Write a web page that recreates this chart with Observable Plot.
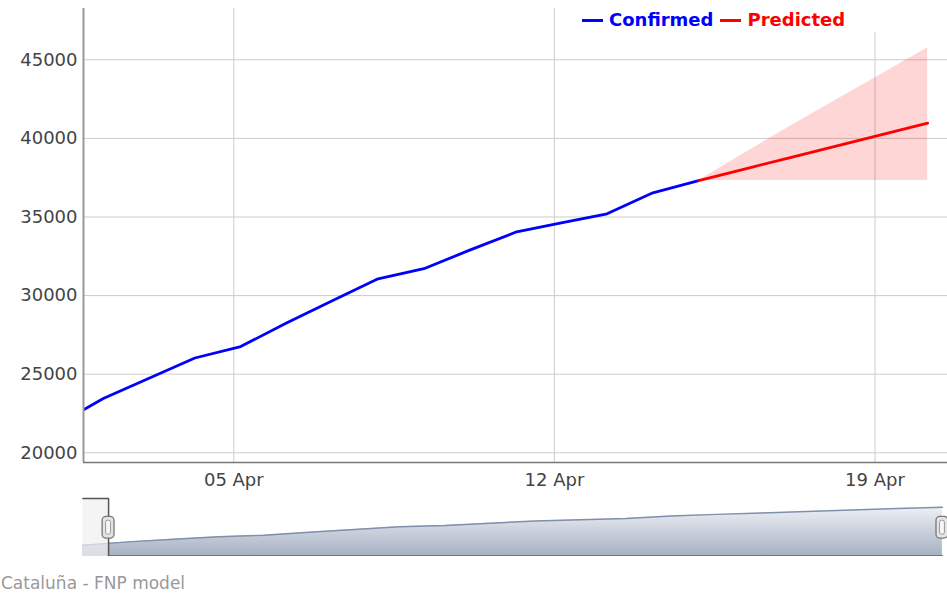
<!DOCTYPE html>
<html>
<head>
<meta charset="utf-8">
<script src="https://cdn.jsdelivr.net/npm/d3@7"></script>
<script src="https://cdn.jsdelivr.net/npm/@observablehq/plot@0.6"></script>
<style>
  html, body { margin: 0; padding: 0; background: #fff; overflow: hidden; }
  #wrap { position: relative; width: 947px; height: 594px; overflow: hidden; font-family: "DejaVu Sans", sans-serif; }
  #main, #mini { position: absolute; left: 0; }
  #main { top: 0; }
  #mini { top: 495px; }
  #legend { position: absolute; left: 580px; top: 8px; width: 367px; height: 24px; background: #fff;
            font-weight: bold; font-size: 18px; line-height: 24px; white-space: nowrap; padding-left: 2px; box-sizing: border-box; }
  #legend .dash { display: inline-block; width: 21px; height: 3px; vertical-align: middle; margin-right: 6px; position: relative; top: -1px; }
  #legend .item { margin-right: 7px; }
  #caption { position: absolute; left: 1px; top: 573px; font-size: 17px; line-height: 20px; color: #999; white-space: nowrap; }
</style>
</head>
<body>
<div id="wrap">
  <div id="main"></div>
  <div id="mini"></div>
  <div id="legend"></div>
  <div id="caption"></div>
</div>
<script>
// ---- data ----
const confirmedDates = [
  "2020-04-01T03:36Z","2020-04-02T03:36Z","2020-04-03T03:36Z","2020-04-04T03:36Z","2020-04-05T03:36Z",
  "2020-04-06T03:36Z","2020-04-07T03:36Z","2020-04-08T03:36Z","2020-04-09T03:36Z","2020-04-10T03:36Z",
  "2020-04-11T03:36Z","2020-04-12T03:36Z","2020-04-13T03:36Z","2020-04-14T03:36Z","2020-04-15T03:36Z"
];
const confirmedValues = [21800, 23450, 24740, 26030, 26760, 28250, 29670, 31070, 31710, 32890, 34030, 34620, 35200, 36540, 37320];

const predictedDates = ["2020-04-15T03:36Z","2020-04-16T03:36Z","2020-04-17T03:36Z","2020-04-18T03:36Z","2020-04-19T03:36Z","2020-04-20T03:36Z"];
const predictedValues = [37320, 38050, 38780, 39510, 40240, 40970];
const predictedUpper  = [37320, 39050, 40780, 42450, 44100, 45760];
const predictedLower  = [37320, 37320, 37320, 37320, 37320, 37320];

const yTicks = [20000, 25000, 30000, 35000, 40000, 45000];
const xTickDates = ["2020-04-05", "2020-04-12", "2020-04-19"];
const viewWindow = ["2020-04-01T17:14Z", "2020-04-20T14:00Z"];
const yRange = [19383, 48263];
const miniYRange = [16340, 45340];
const seriesNames = ["Confirmed", "Predicted"];
const seriesColors = ["#0000ff", "#ff0000"];
const captionText = "Cataluña - FNP model";

// ---- build tables ----
const conf = confirmedDates.map((d, i) => ({date: new Date(d), value: confirmedValues[i]}));
const pred = predictedDates.map((d, i) => ({date: new Date(d), value: predictedValues[i], upper: predictedUpper[i], lower: predictedLower[i]}));
const xTicks = xTickDates.map(d => new Date(d + "T00:00Z"));
const viewStart = new Date(viewWindow[0]);
const viewEnd = new Date(viewWindow[1]);

const main = Plot.plot({
  width: 947, height: 492,
  marginTop: 8, marginRight: 0, marginBottom: 30, marginLeft: 83,
  style: {fontFamily: "DejaVu Sans", fontSize: "18px", color: "#444", background: "white"},
  x: {type: "utc", domain: [viewStart, viewEnd]},
  y: {domain: yRange},
  marks: [
    Plot.gridY(yTicks, {stroke: "#cccccc", strokeOpacity: 1}),
    Plot.gridX(xTicks, {stroke: "#cccccc", strokeOpacity: 1}),
    Plot.areaY(pred, {x: "date", y1: "lower", y2: "upper", fill: seriesColors[1], fillOpacity: 0.16, clip: true}),
    Plot.line(conf, {x: "date", y: "value", stroke: seriesColors[0], strokeWidth: 2.8, clip: true}),
    Plot.line(pred, {x: "date", y: "value", stroke: seriesColors[1], strokeWidth: 2.8, clip: true}),
    Plot.ruleX([viewStart], {stroke: "#999", strokeWidth: 2}),
    Plot.ruleY([yRange[0]], {stroke: "#777", strokeWidth: 1.5}),
    Plot.axisY(yTicks, {tickSize: 0, tickPadding: 6, tickFormat: d3.format("d"), label: null}),
    Plot.axisX(xTicks, {tickSize: 0, tickPadding: 11, tickFormat: d3.utcFormat("%d %b"), label: null})
  ]
});
document.getElementById("main").appendChild(main);

// ---- range selector ----
const miniSeries = conf.concat(pred.slice(1).map(d => ({date: d.date, value: d.value})));
const miniStart = conf[0].date;
const miniEnd = pred[pred.length - 1].date;
const selEnd = viewEnd < miniEnd ? viewEnd : miniEnd;
const outline = [
  {date: miniStart, v: miniYRange[1]},
  {date: viewStart, v: miniYRange[1]},
  {date: viewStart, v: miniYRange[0]},
  {date: selEnd, v: miniYRange[0]}
];

const mini = Plot.plot({
  width: 955, height: 62,
  marginTop: 3, marginRight: 5, marginBottom: 1, marginLeft: 83,
  style: {background: "transparent"},
  x: {type: "utc", domain: [miniStart, miniEnd], axis: null},
  y: {domain: miniYRange, axis: null},
  marks: [
    Plot.areaY(miniSeries, {x: "date", y1: () => miniYRange[0], y2: "value", fill: "url(#rsGrad)"}),
    Plot.line(miniSeries, {x: "date", y: "value", stroke: "#808FAB", strokeWidth: 1.5}),
    Plot.rect([0], {x1: () => miniStart, x2: () => viewStart, y1: () => miniYRange[0], y2: () => miniYRange[1], fill: "#f0f0f0", fillOpacity: 0.7}),
    Plot.line(outline, {x: "date", y: "v", stroke: "#555", strokeWidth: 1.5})
  ]
});
d3.select(mini).insert("defs", ":first-child").html(
  '<linearGradient id="rsGrad" x1="0" y1="0" x2="0" y2="1">' +
  '<stop offset="0" stop-color="#eef0f4"/><stop offset="1" stop-color="#a7b1c4"/></linearGradient>');
const sx = mini.scale("x");
const sy = mini.scale("y");
const hy = (sy.apply(miniYRange[0]) + sy.apply(miniYRange[1])) / 2;
[viewStart, selEnd].forEach(d => {
  const hx = sx.apply(d);
  const g = d3.select(mini).append("g");
  g.append("rect").attr("x", hx - 6).attr("y", hy - 10.5).attr("width", 12).attr("height", 22).attr("rx", 4)
    .attr("fill", "#e4e4e4").attr("stroke", "#777").attr("stroke-width", 1.3);
  g.append("rect").attr("x", hx - 2.5).attr("y", hy - 6.5).attr("width", 5).attr("height", 14).attr("rx", 2)
    .attr("fill", "#f6f6f6").attr("stroke", "#999").attr("stroke-width", 1);
});
document.getElementById("mini").appendChild(mini);

// ---- legend ----
const legend = document.getElementById("legend");
seriesNames.forEach((name, i) => {
  const item = document.createElement("span");
  item.className = "item";
  item.style.color = seriesColors[i];
  const dash = document.createElement("span");
  dash.className = "dash";
  dash.style.background = seriesColors[i];
  item.appendChild(dash);
  item.appendChild(document.createTextNode(name));
  legend.appendChild(item);
});

document.getElementById("caption").textContent = captionText;
</script>
</body>
</html>
